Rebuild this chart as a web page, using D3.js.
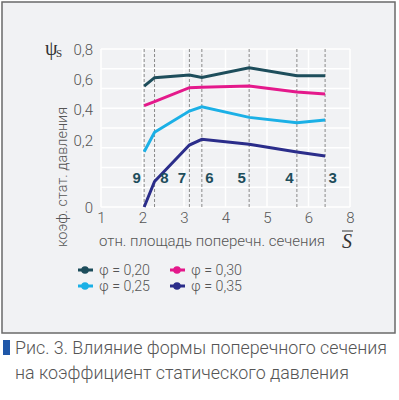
<!DOCTYPE html>
<html><head><meta charset="utf-8">
<script src="https://cdn.jsdelivr.net/npm/d3@7"></script>
<style>
body{margin:0;background:#fff;}
text{font-family:Roboto,"Noto Sans",sans-serif;font-weight:300;fill:#555;}
</style></head><body>
<svg id="c" width="399" height="400"></svg>
<script>
// ---- data ----
const sectionLabels = ["9","8","7","6","5","4","3"];
const sValues = [2.04, 2.29, 3.13, 3.43, 4.57, 5.72, 6.40];
const seriesNames = ["φ = 0,20","φ = 0,25","φ = 0,30","φ = 0,35"];
const seriesColors = ["#1d4d5b","#1bb0e6","#e4198b","#2b2d8a"];
const phi020 = [0.553, 0.609, 0.627, 0.611, 0.675, 0.622, 0.622];
const phi025 = [0.165, 0.250, 0.387, 0.415, 0.346, 0.312, 0.329];
const phi030 = [0.422, 0.449, 0.542, 0.545, 0.553, 0.513, 0.500];
const phi035 = [0.000, 0.076, 0.185, 0.204, 0.187, 0.164, 0.152];
const seriesValues = [phi020, phi025, phi030, phi035];
const xTickValues = [1,2,3,4,5,6,7];
const xTickLabels = ["1","2","3","4","5","6","8"];
const yTickValues = [0,0.2,0.4,0.6,0.8];
const yTickLabels = ["0","0,2","0,4","0,6","0,8"];
const labelSide = [-7.5, 10, -7.5, 7.5, -7.5, -7.5, 7.5];

const svg = d3.select("#c");
svg.append("rect").attr("x",2).attr("y",2).attr("width",393).attr("height",331)
  .attr("fill","#f1f2f4").attr("stroke","#6a6a6a").attr("stroke-width",1.5);

const x = d3.scaleLinear().domain([1,7]).range([101,350]);
const y = d3.scaleLinear().domain(yTickValues).range([207,140,109,79,49]);
const grid = d3.scaleLinear().domain([0,8]).range([207,49]);

const g = svg.append("g");
g.selectAll(".hg").data(d3.range(9)).join("line")
  .attr("x1",x(1)).attr("x2",x(7)).attr("y1",d=>grid(d)).attr("y2",d=>grid(d))
  .attr("stroke","#fff").attr("stroke-width",1.5);
g.selectAll(".vg").data(xTickValues).join("line")
  .attr("x1",d=>x(d)).attr("x2",d=>x(d)).attr("y1",grid(0)).attr("y2",grid(8))
  .attr("stroke","#fff").attr("stroke-width",1.5);
g.selectAll(".dl").data(sValues).join("line")
  .attr("x1",d=>x(d)).attr("x2",d=>x(d)).attr("y1",grid(0)).attr("y2",grid(8))
  .attr("stroke","#8a8a8a").attr("stroke-width",1).attr("stroke-dasharray","3,2");

const xAxis = d3.axisBottom(x).tickValues(xTickValues).tickSize(0).tickPadding(0)
  .tickFormat((d,i)=>xTickLabels[i]);
const xa = svg.append("g").attr("transform","translate(0,218)").call(xAxis);
xa.select(".domain").remove();
xa.selectAll("text").attr("dy",null).attr("y",0).attr("dominant-baseline","central")
  .style("font-size","15px").style("font-family","Roboto,sans-serif").style("font-weight","300").attr("fill","#555");
const yAxis = d3.axisLeft(y).tickValues(yTickValues).tickSize(0).tickPadding(0)
  .tickFormat((d,i)=>yTickLabels[i]);
const ya = svg.append("g").attr("transform","translate(93,0)").call(yAxis);
ya.select(".domain").remove();
ya.selectAll("text").attr("dy",null).attr("x",0).attr("dominant-baseline","central")
  .style("font-size","15px").style("font-family","Roboto,sans-serif").style("font-weight","300").attr("fill","#555");

const line = d3.line().x((d,i)=>x(sValues[i])).y(d=>y(d));
svg.selectAll(".ln").data(seriesValues).join("path")
  .attr("d",d=>line(d)).attr("fill","none")
  .attr("stroke",(d,i)=>seriesColors[i]).attr("stroke-width",3).attr("stroke-linejoin","miter");

svg.selectAll(".sl").data(sValues).join("text")
  .attr("x",(d,i)=>x(d)+labelSide[i]).attr("y",177).attr("text-anchor","middle")
  .attr("dominant-baseline","central")
  .style("font-family","'Liberation Sans',Arial,sans-serif").style("font-weight","bold")
  .style("font-size","15px").style("fill","#1d4d5b")
  .text((d,i)=>sectionLabels[i]);

svg.append("text").attr("x",99).attr("y",241).attr("dominant-baseline","central")
  .attr("textLength",226).attr("lengthAdjust","spacingAndGlyphs")
  .style("font-size","15px").text("отн. площадь поперечн. сечения");
const sb = svg.append("g");
sb.append("text").attr("x",347).attr("y",248).attr("text-anchor","middle")
  .style("font-family","'Liberation Serif',serif").style("font-style","italic").style("font-weight","normal")
  .style("font-size","20px").style("fill","#333").text("S");
sb.append("line").attr("x1",342).attr("x2",353).attr("y1",231).attr("y2",231)
  .attr("stroke","#333").attr("stroke-width",1);
svg.append("text").attr("transform","translate(62,177) rotate(-90)")
  .attr("text-anchor","middle").attr("dominant-baseline","central")
  .attr("textLength",140).attr("lengthAdjust","spacingAndGlyphs")
  .style("font-size","15px").text("коэф. стат. давления");
svg.append("text").attr("x",45).attr("y",55)
  .style("font-family","'Liberation Serif',serif").style("font-weight","normal").style("font-size","20px").style("fill","#333").text("ψ");
svg.append("text").attr("x",56).attr("y",57)
  .style("font-family","'Liberation Serif',serif").style("font-weight","normal").style("font-size","11px").style("fill","#333").text("S");

const legPos = [[85,270],[85,286],[177,270],[177,286]];
const lg = svg.selectAll(".lg").data(seriesNames).join("g")
  .attr("transform",(d,i)=>`translate(${legPos[i][0]},${legPos[i][1]})`);
lg.append("line").attr("x1",-7).attr("x2",8).attr("stroke",(d,i)=>seriesColors[i]).attr("stroke-width",3);
lg.append("circle").attr("r",3.8).attr("fill",(d,i)=>seriesColors[i]);
lg.append("text").attr("x",14).attr("dominant-baseline","central")
  .attr("textLength",51).attr("lengthAdjust","spacingAndGlyphs")
  .style("font-size","14px").text(d=>d);

svg.append("rect").attr("x",3).attr("y",340).attr("width",7).attr("height",15).attr("fill","#1f57a8");
const c1 = svg.append("text").attr("x",15).attr("y",347).attr("dominant-baseline","central")
  .style("font-size","18px").text("Рис. 3. Влияние формы поперечного сечения");
const c2 = svg.append("text").attr("x",15).attr("y",372).attr("dominant-baseline","central")
  .style("font-size","18px").text("на коэффициент статического давления");
const k = 372 / c1.node().getComputedTextLength();
c1.attr("textLength",372).attr("lengthAdjust","spacingAndGlyphs");
c2.attr("textLength",c2.node().getComputedTextLength()*k).attr("lengthAdjust","spacingAndGlyphs");
</script>
</body></html>
